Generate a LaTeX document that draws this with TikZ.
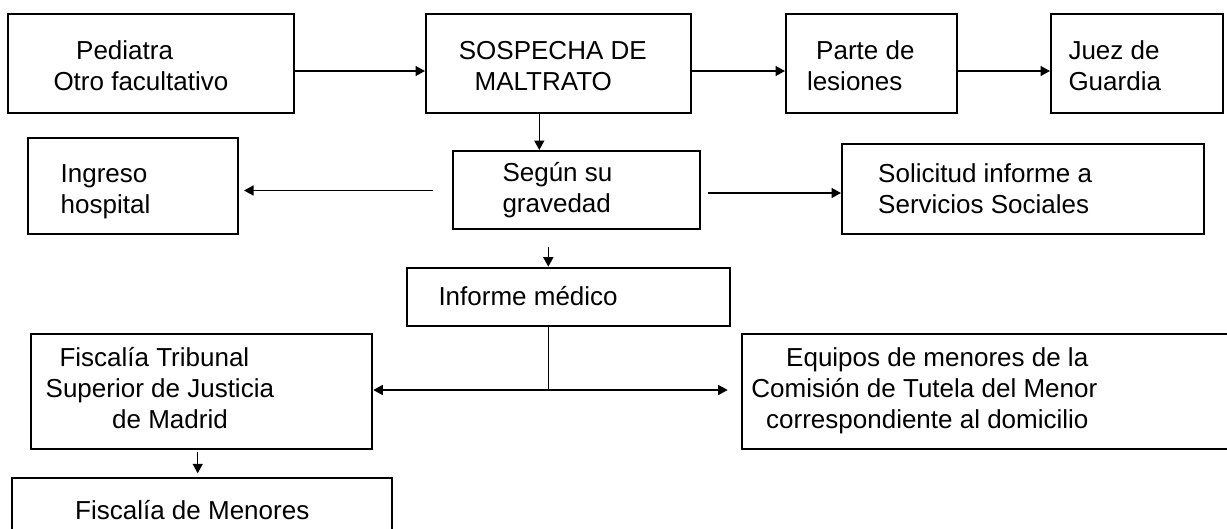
\documentclass[tikz,border=0pt]{standalone}
\usepackage{fontspec}
\setmainfont{Liberation Sans}
\usetikzlibrary{arrows.meta}
\newcommand\Ln[2]{\hbox{\kern#1pt #2}}
\newcommand\Tx[1]{\vtop{\baselineskip=30.7pt\lineskiplimit=-100pt #1}}
\begin{document}
\begin{tikzpicture}[x=1pt,y=-1pt,
  box/.style 2 args={draw,line width=2pt,anchor=north west,inner sep=0pt,minimum width=#1pt,minimum height=#2pt},
  txt/.style={anchor=base west,inner sep=0pt,font=\fontsize{26}{30.7}\selectfont},
  arr/.style={line width=1.5pt,-{Triangle[length=9.5pt,width=10pt]}},
  lin/.style={line width=1.5pt}]
\useasboundingbox (0,0) rectangle (1227,528);
\clip (0,0) rectangle (1227,528);
% boxes
\node[box={286}{99}] (B1) at (7.3,12.7) {};
\node[box={265}{99}] (B2) at (425,12.7) {};
\node[box={170.5}{99}] (B3) at (785,12.7) {};
\node[box={171.7}{99}] (B4) at (1050,12.7) {};
\node[box={209.6}{95.4}] (B5) at (26.9,137.3) {};
\node[box={247.6}{78.3}] (B6) at (451.7,150) {};
\node[box={362}{89.2}] (B7) at (841,143.3) {};
\node[box={323.3}{58.3}] (B8) at (405.7,266.7) {};
\node[box={341.6}{114.7}] (B9) at (29.7,333.3) {};
\node[box={500}{114.4}] (B10) at (740.7,333.3) {};
\node[box={380}{83}] (B11) at (10.7,477.3) {};
% texts
\node[txt] (T1) at (53.3,59.3) {\Tx{\Ln{22.7}{Pediatra}\Ln{0}{Otro facultativo}}};
\node[txt] (T2) at (458.7,59.3) {\Tx{\Ln{0}{SOSPECHA DE}\Ln{15.8}{MALTRATO}}};
\node[txt] (T3) at (806.8,59.3) {\Tx{\Ln{9.2}{Parte de}\Ln{0}{lesiones}}};
\node[txt] (T4) at (1068.3,59.3) {\Tx{\Ln{0}{Juez de}\Ln{0}{Guardia}}};
\node[txt] (T5) at (60.5,182.7) {\Tx{\Ln{0}{Ingreso}\Ln{0}{hospital}}};
\node[txt] (T6) at (502.3,181.7) {\Tx{\Ln{0}{Según su}\Ln{0}{gravedad}}};
\node[txt] (T7) at (878,182.7) {\Tx{\Ln{0}{Solicitud informe a}\Ln{0}{Servicios Sociales}}};
\node[txt] (T8) at (438.3,305) {Informe médico};
\node[txt] (T9) at (45.5,366.7) {\Tx{\Ln{13.8}{Fiscalía Tribunal}\Ln{0}{Superior de Justicia}\Ln{66.5}{de Madrid}}};
\node[txt] (T10) at (751.2,366.7) {\Tx{\Ln{34.8}{Equipos de menores de la}\Ln{0}{Comisión de Tutela del Menor}\Ln{14.8}{correspondiente al domicilio}}};
\node[txt] (T11) at (75,519.3) {Fiscalía de Menores};
% free ends
\coordinate (sl) at (433.3,190.5);
\coordinate (sr) at (708.3,193);
\coordinate (sd) at (548.3,246.7);
\coordinate (j) at (548.3,390);
\coordinate (fd) at (197.7,452);
% connectors
\draw[arr] ([yshift=-7.8pt]B1.east) -- ([yshift=-7.8pt]B2.west);
\draw[arr] ([yshift=-7.8pt]B2.east) -- ([yshift=-7.8pt]B3.west);
\draw[arr] ([yshift=-7.8pt]B3.east) -- ([yshift=-7.8pt]B4.west);
\draw[arr] ([xshift=-19.2pt]B2.south) -- ([xshift=-19.2pt]B2.south |- B6.north);
\draw[arr,shorten >=5.5pt] (sl) -- (sl -| B5.east);
\draw[arr] (sr) -- (sr -| B7.west);
\draw[arr] (sd) -- (sd |- B8.north);
\draw[lin] (j |- B8.south) -- (j);
\draw[arr] (j) -- (j -| B9.east);
\draw[arr,shorten >=13pt] (j) -- (j -| B10.west);
\draw[arr,shorten >=4pt] (fd) -- (fd |- B11.north);
\end{tikzpicture}
\end{document}
